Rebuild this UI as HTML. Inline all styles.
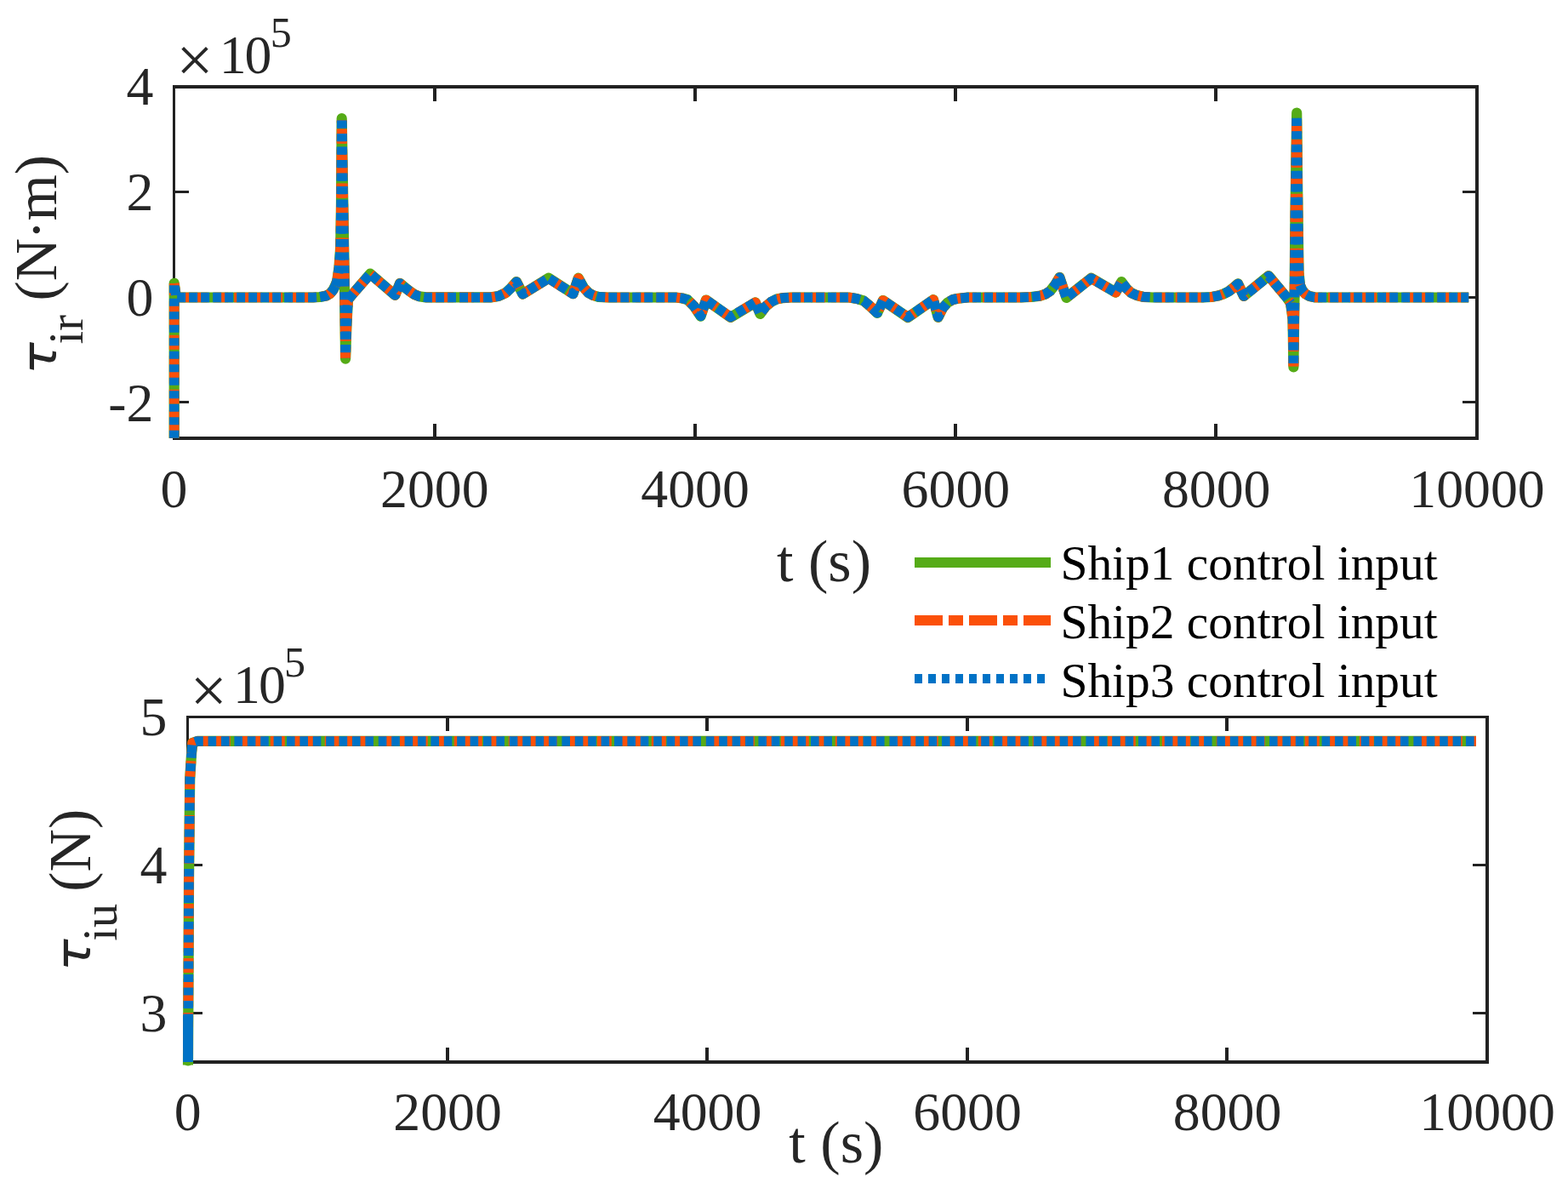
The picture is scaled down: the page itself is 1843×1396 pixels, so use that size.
<!DOCTYPE html>
<html lang="en"><head><meta charset="utf-8"><title>Ship control inputs</title>
<style>
html,body{margin:0;padding:0;background:#fff;}
svg{display:block;font-family:"Liberation Serif", serif;}
</style></head><body>
<svg width="1843" height="1396" viewBox="0 0 1843 1396">
<rect width="1843" height="1396" fill="#fff"/>
<g><rect x="203.00" y="100.00" width="3.00" height="417.00" fill="#212121"/><rect x="1734.00" y="100.00" width="4.00" height="417.00" fill="#212121"/><rect x="203.00" y="100.00" width="1535.00" height="4.00" fill="#212121"/><rect x="203.00" y="513.00" width="1535.00" height="4.00" fill="#212121"/><rect x="509.00" y="498.00" width="4.00" height="16.00" fill="#212121"/><rect x="509.00" y="103.00" width="4.00" height="16.00" fill="#212121"/><rect x="815.00" y="498.00" width="4.00" height="16.00" fill="#212121"/><rect x="815.00" y="103.00" width="4.00" height="16.00" fill="#212121"/><rect x="1121.00" y="498.00" width="4.00" height="16.00" fill="#212121"/><rect x="1121.00" y="103.00" width="4.00" height="16.00" fill="#212121"/><rect x="1427.00" y="498.00" width="4.00" height="16.00" fill="#212121"/><rect x="1427.00" y="103.00" width="4.00" height="16.00" fill="#212121"/><rect x="205.00" y="224.00" width="17.00" height="3.00" fill="#212121"/><rect x="1719.00" y="224.00" width="16.00" height="3.00" fill="#212121"/><rect x="205.00" y="348.00" width="17.00" height="3.00" fill="#212121"/><rect x="1719.00" y="348.00" width="16.00" height="3.00" fill="#212121"/><rect x="205.00" y="471.00" width="17.00" height="3.00" fill="#212121"/><rect x="1719.00" y="471.00" width="16.00" height="3.00" fill="#212121"/></g>
<g font-size="63.8" fill="#262626" text-anchor="middle"><text x="204.5" y="595.6">0</text><text x="510.8" y="595.6">2000</text><text x="817.1" y="595.6">4000</text><text x="1123.4" y="595.6">6000</text><text x="1429.7" y="595.6">8000</text><text x="1736.0" y="595.6">10000</text></g>
<g font-size="63.8" fill="#262626" text-anchor="end"><text x="180.5" y="123.2">4</text><text x="180.5" y="246.9">2</text><text x="180.5" y="370.7">0</text><text x="180.5" y="494.5">-2</text></g>
<path d="M204.7 515.1 L204.7 332.8 L207.0 349.5 L368.0 349.5 L376.0 349.0 L383.5 347.6 L388.0 344.9 L391.6 340.6 L394.0 335.8 L396.2 330.2 L398.5 314.0 L400.2 290.8 L401.0 238.7 L401.7 139.0 L403.5 248.8 L405.0 339.9 L406.1 421.6 L407.5 380.4 L409.0 352.0 L415.0 344.9 L435.1 321.7 L464.4 346.8 L470.1 332.8 L476.0 337.9 L481.0 341.8 L487.0 346.0 L492.4 348.2 L500.5 349.4 L577.0 349.4 L586.0 348.0 L594.4 344.1 L601.0 337.9 L607.0 331.1 L614.4 345.6 L644.8 326.7 L673.5 345.2 L679.8 326.7 L686.0 337.9 L691.8 344.1 L697.0 347.0 L703.3 348.8 L714.7 349.5 L794.4 349.5 L802.0 350.5 L808.1 352.2 L816.0 360.1 L823.6 371.7 L829.9 352.5 L858.6 372.9 L887.8 355.4 L893.5 368.8 L900.0 360.1 L906.7 354.6 L913.0 351.5 L920.5 350.1 L930.0 349.5 L997.8 349.5 L1007.0 351.0 L1015.0 353.3 L1023.0 360.1 L1031.1 368.0 L1037.9 353.0 L1067.2 373.1 L1097.0 352.2 L1102.7 372.9 L1108.0 362.1 L1113.6 355.7 L1120.0 352.0 L1126.2 350.8 L1137.6 349.5 L1200.0 349.5 L1212.0 349.0 L1223.0 347.6 L1229.0 345.5 L1234.5 341.8 L1240.0 334.8 L1245.4 325.8 L1253.4 349.9 L1282.6 326.7 L1311.3 343.6 L1318.2 331.1 L1324.0 338.9 L1329.6 344.1 L1336.0 347.0 L1343.4 348.8 L1355.0 349.5 L1414.0 349.5 L1424.0 349.0 L1431.6 347.6 L1438.0 345.5 L1444.2 342.4 L1450.0 337.9 L1455.1 333.4 L1461.9 347.9 L1491.2 324.1 L1511.8 348.8 L1517.0 356.1 L1519.5 375.3 L1520.4 431.4 L1521.5 350.0 L1522.5 248.8 L1524.2 132.5 L1525.5 248.8 L1526.5 319.6 L1528.0 334.8 L1530.5 340.9 L1534.5 345.5 L1539.0 348.0 L1545.0 349.3 L1550.0 349.5 L1726.2 349.5" fill="none" stroke="#55AB17" stroke-width="12.2" stroke-linejoin="round" stroke-linecap="butt"/>
<path d="M204.7 514.8 L204.7 333.0" fill="none" stroke="#FB5009" stroke-width="11.7" stroke-linejoin="round" stroke-dasharray="33 7 17 7" stroke-dashoffset="0.00"/>
<path d="M204.7 333.0 L207.0 349.5 L368.0 349.5 L376.0 349.0 L383.5 347.6 L388.0 345.0 L391.6 340.7 L394.0 336.0" fill="none" stroke="#FB5009" stroke-width="11.7" stroke-linejoin="round" stroke-dasharray="33 7 17 7" stroke-dashoffset="43.20"/>
<path d="M394.0 336.0 L396.2 330.4 L398.5 314.4 L400.2 291.5 L401.0 240.0 L401.7 141.5" fill="none" stroke="#FB5009" stroke-width="11.7" stroke-linejoin="round" stroke-dasharray="33 7 17 7" stroke-dashoffset="0.00"/>
<path d="M401.7 141.5 L403.5 250.0 L405.0 340.0 L406.1 420.7" fill="none" stroke="#FB5009" stroke-width="11.7" stroke-linejoin="round" stroke-dasharray="33 7 17 7" stroke-dashoffset="29.85"/>
<path d="M406.1 420.7 L407.5 380.0 L409.0 352.0" fill="none" stroke="#FB5009" stroke-width="11.7" stroke-linejoin="round" stroke-dasharray="33 7 17 7" stroke-dashoffset="43.92"/>
<path d="M409.0 352.0 L415.0 345.0 L435.1 322.0 L464.4 346.8 L470.1 333.0 L476.0 338.0 L481.0 341.9 L487.0 346.0 L492.4 348.2 L500.5 349.4 L577.0 349.4 L586.0 348.0 L594.4 344.2 L601.0 338.0 L607.0 331.3 L614.4 345.6 L644.8 327.0 L673.5 345.3 L679.8 327.0 L686.0 338.0 L691.8 344.2 L697.0 347.0 L703.3 348.8 L714.7 349.5 L794.4 349.5 L802.0 350.5 L808.1 352.2 L816.0 360.0 L823.6 371.4 L829.9 352.5 L858.6 372.6 L887.8 355.3 L893.5 368.6 L900.0 360.0 L906.7 354.5 L913.0 351.5 L920.5 350.1 L930.0 349.5 L997.8 349.5 L1007.0 351.0 L1015.0 353.3 L1023.0 360.0 L1031.1 367.8 L1037.9 353.0 L1067.2 372.8 L1097.0 352.2 L1102.7 372.6 L1108.0 362.0 L1113.6 355.6 L1120.0 352.0 L1126.2 350.8 L1137.6 349.5 L1200.0 349.5 L1212.0 349.0 L1223.0 347.6 L1229.0 345.5 L1234.5 341.9 L1240.0 335.0 L1245.4 326.1 L1253.4 349.9 L1282.6 327.0 L1311.3 343.7 L1318.2 331.3 L1324.0 339.0 L1329.6 344.2 L1336.0 347.0 L1343.4 348.8 L1355.0 349.5 L1414.0 349.5 L1424.0 349.0 L1431.6 347.6 L1438.0 345.5 L1444.2 342.5 L1450.0 338.0 L1455.1 333.6 L1461.9 347.9 L1491.2 324.4 L1511.8 348.8 L1517.0 356.0" fill="none" stroke="#FB5009" stroke-width="11.7" stroke-linejoin="round" stroke-dasharray="33 7 17 7" stroke-dashoffset="0.00"/>
<path d="M1517.0 356.0 L1519.5 375.0 L1520.4 430.4" fill="none" stroke="#FB5009" stroke-width="11.7" stroke-linejoin="round" stroke-dasharray="33 7 17 7" stroke-dashoffset="0.00"/>
<path d="M1520.4 430.4 L1521.5 350.0 L1522.5 250.0 L1524.2 135.1" fill="none" stroke="#FB5009" stroke-width="11.7" stroke-linejoin="round" stroke-dasharray="33 7 17 7" stroke-dashoffset="22.43"/>
<path d="M1524.2 135.1 L1525.5 250.0 L1526.5 320.0 L1528.0 335.0" fill="none" stroke="#FB5009" stroke-width="11.7" stroke-linejoin="round" stroke-dasharray="33 7 17 7" stroke-dashoffset="35.25"/>
<path d="M1528.0 335.0 L1530.5 341.0 L1534.5 345.5 L1539.0 348.0 L1545.0 349.3 L1550.0 349.5 L1726.2 349.5" fill="none" stroke="#FB5009" stroke-width="11.7" stroke-linejoin="round" stroke-dasharray="33 7 17 7" stroke-dashoffset="0.00"/>
<path d="M204.7 514.8 L204.7 333.0" fill="none" stroke="#0072C6" stroke-width="11.5" stroke-linejoin="round" stroke-dasharray="9 6.5" stroke-dashoffset="0.00"/>
<path d="M204.7 333.0 L207.0 349.5 L368.0 349.5 L376.0 349.0 L383.5 347.6 L388.0 345.0 L391.6 340.7 L394.0 336.0" fill="none" stroke="#0072C6" stroke-width="11.5" stroke-linejoin="round" stroke-dasharray="10 4" stroke-dashoffset="10.20"/>
<path d="M394.0 336.0 L396.2 330.4 L398.5 314.4 L400.2 291.5 L401.0 240.0 L401.7 141.5" fill="none" stroke="#0072C6" stroke-width="11.5" stroke-linejoin="round" stroke-dasharray="9 6.5" stroke-dashoffset="0.00"/>
<path d="M401.7 141.5 L403.5 250.0 L405.0 340.0 L406.1 420.7" fill="none" stroke="#0072C6" stroke-width="11.5" stroke-linejoin="round" stroke-dasharray="9 6.5" stroke-dashoffset="15.35"/>
<path d="M406.1 420.7 L407.5 380.0 L409.0 352.0" fill="none" stroke="#0072C6" stroke-width="11.5" stroke-linejoin="round" stroke-dasharray="9 6.5" stroke-dashoffset="8.92"/>
<path d="M409.0 352.0 L415.0 345.0 L435.1 322.0 L464.4 346.8 L470.1 333.0 L476.0 338.0 L481.0 341.9 L487.0 346.0 L492.4 348.2 L500.5 349.4 L577.0 349.4 L586.0 348.0 L594.4 344.2 L601.0 338.0 L607.0 331.3 L614.4 345.6 L644.8 327.0 L673.5 345.3 L679.8 327.0 L686.0 338.0 L691.8 344.2 L697.0 347.0 L703.3 348.8 L714.7 349.5 L794.4 349.5 L802.0 350.5 L808.1 352.2 L816.0 360.0 L823.6 371.4 L829.9 352.5 L858.6 372.6 L887.8 355.3 L893.5 368.6 L900.0 360.0 L906.7 354.5 L913.0 351.5 L920.5 350.1 L930.0 349.5 L997.8 349.5 L1007.0 351.0 L1015.0 353.3 L1023.0 360.0 L1031.1 367.8 L1037.9 353.0 L1067.2 372.8 L1097.0 352.2 L1102.7 372.6 L1108.0 362.0 L1113.6 355.6 L1120.0 352.0 L1126.2 350.8 L1137.6 349.5 L1200.0 349.5 L1212.0 349.0 L1223.0 347.6 L1229.0 345.5 L1234.5 341.9 L1240.0 335.0 L1245.4 326.1 L1253.4 349.9 L1282.6 327.0 L1311.3 343.7 L1318.2 331.3 L1324.0 339.0 L1329.6 344.2 L1336.0 347.0 L1343.4 348.8 L1355.0 349.5 L1414.0 349.5 L1424.0 349.0 L1431.6 347.6 L1438.0 345.5 L1444.2 342.5 L1450.0 338.0 L1455.1 333.6 L1461.9 347.9 L1491.2 324.4 L1511.8 348.8 L1517.0 356.0" fill="none" stroke="#0072C6" stroke-width="11.5" stroke-linejoin="round" stroke-dasharray="10 4" stroke-dashoffset="0.00"/>
<path d="M1517.0 356.0 L1519.5 375.0 L1520.4 430.4" fill="none" stroke="#0072C6" stroke-width="11.5" stroke-linejoin="round" stroke-dasharray="9 6.5" stroke-dashoffset="0.00"/>
<path d="M1520.4 430.4 L1521.5 350.0 L1522.5 250.0 L1524.2 135.1" fill="none" stroke="#0072C6" stroke-width="11.5" stroke-linejoin="round" stroke-dasharray="9 6.5" stroke-dashoffset="11.93"/>
<path d="M1524.2 135.1 L1525.5 250.0 L1526.5 320.0 L1528.0 335.0" fill="none" stroke="#0072C6" stroke-width="11.5" stroke-linejoin="round" stroke-dasharray="9 6.5" stroke-dashoffset="11.75"/>
<path d="M1528.0 335.0 L1530.5 341.0 L1534.5 345.5 L1539.0 348.0 L1545.0 349.3 L1550.0 349.5 L1726.2 349.5" fill="none" stroke="#0072C6" stroke-width="11.5" stroke-linejoin="round" stroke-dasharray="10 4" stroke-dashoffset="0.00"/>
<text x="207.3" y="96.4" font-size="77" fill="#262626">×</text><text x="257.7" y="85.8" font-size="63.8" fill="#262626">1<tspan dx="-2">0</tspan></text><text x="317.8" y="55.0" font-size="50" fill="#262626">5</text>
<text x="968.5" y="682.6" text-anchor="middle" font-size="70.2" fill="#262626">t (s)</text>
<g transform="translate(65.9 436.4) rotate(-90)" fill="#262626"><text x="0" y="0" font-size="57" font-family="&quot;DejaVu Sans&quot;, &quot;Liberation Sans&quot;, sans-serif" font-style="italic" transform="translate(-3.5 0) scale(1.1 1)">τ</text><text x="32" y="31" font-size="56.2">ir</text><text x="83" y="0" font-size="69.8">(N<tspan dx="-2">·</tspan><tspan dx="-1">m)</tspan></text></g>
<g><rect x="219.00" y="841.00" width="3.00" height="409.00" fill="#212121"/><rect x="1746.00" y="841.00" width="4.00" height="409.00" fill="#212121"/><rect x="219.00" y="841.00" width="1531.00" height="3.00" fill="#212121"/><rect x="219.00" y="1246.00" width="1531.00" height="4.00" fill="#212121"/><rect x="524.00" y="1231.00" width="4.00" height="16.00" fill="#212121"/><rect x="524.00" y="843.00" width="4.00" height="16.00" fill="#212121"/><rect x="829.00" y="1231.00" width="4.00" height="16.00" fill="#212121"/><rect x="829.00" y="843.00" width="4.00" height="16.00" fill="#212121"/><rect x="1135.00" y="1231.00" width="4.00" height="16.00" fill="#212121"/><rect x="1135.00" y="843.00" width="4.00" height="16.00" fill="#212121"/><rect x="1440.00" y="1231.00" width="4.00" height="16.00" fill="#212121"/><rect x="1440.00" y="843.00" width="4.00" height="16.00" fill="#212121"/><rect x="221.00" y="1015.00" width="17.00" height="3.00" fill="#212121"/><rect x="1731.00" y="1015.00" width="16.00" height="3.00" fill="#212121"/><rect x="221.00" y="1189.00" width="17.00" height="3.00" fill="#212121"/><rect x="1731.00" y="1189.00" width="16.00" height="3.00" fill="#212121"/></g>
<g font-size="63.8" fill="#262626" text-anchor="middle"><text x="220.6" y="1328">0</text><text x="526.1" y="1328">2000</text><text x="831.6" y="1328">4000</text><text x="1137.1" y="1328">6000</text><text x="1442.6" y="1328">8000</text><text x="1748.1" y="1328">10000</text></g>
<g font-size="63.8" fill="#262626" text-anchor="end"><text x="196.5" y="863.6">5</text><text x="196.5" y="1037.7">4</text><text x="196.5" y="1211.7">3</text></g>
<path d="M221.0 1251.5 L222.0 1037.0 L223.2 915.5 L225.1 885.2 L226.2 873.0 L232.0 870.9 L1735.0 870.9" fill="none" stroke="#55AB17" stroke-width="12.2" stroke-linejoin="round" stroke-linecap="butt"/>
<path d="M221.0 1247.0 L222.0 1035.0 L223.2 915.0 L225.1 885.0" fill="none" stroke="#FB5009" stroke-width="11.7" stroke-linejoin="round" stroke-dasharray="33 7 17 7" stroke-dashoffset="0.00"/>
<path d="M225.1 885.0 L226.2 873.0 L232.0 870.9 L1735.0 870.9" fill="none" stroke="#FB5009" stroke-width="11.7" stroke-linejoin="round" stroke-dasharray="33 7 17 7" stroke-dashoffset="0.00"/>
<path d="M221.0 1247.0 L222.0 1035.0 L223.2 915.0 L225.1 885.0" fill="none" stroke="#0072C6" stroke-width="11.5" stroke-linejoin="round" stroke-dasharray="9 6.5" stroke-dashoffset="0.00"/>
<path d="M225.1 885.0 L226.2 873.0 L232.0 870.9 L1735.0 870.9" fill="none" stroke="#0072C6" stroke-width="11.5" stroke-linejoin="round" stroke-dasharray="9.6 5.8" stroke-dashoffset="0.00"/>
<path d="M221 1240 V1246.8" stroke="#55AB17" stroke-width="11.4" stroke-linecap="round" fill="none"/><path d="M221 1193 V1248" stroke="#0072C6" stroke-width="11.8" fill="none"/>
<text x="223.6" y="836.5" font-size="77" fill="#262626">×</text><text x="274.0" y="825.9" font-size="63.8" fill="#262626">1<tspan dx="-2">0</tspan></text><text x="334.1" y="795.1" font-size="50" fill="#262626">5</text>
<text x="982.8" y="1365.9" text-anchor="middle" font-size="70.2" fill="#262626">t (s)</text>
<g transform="translate(105.5 1137.7) rotate(-90)" fill="#262626"><text x="0" y="0" font-size="57" font-family="&quot;DejaVu Sans&quot;, &quot;Liberation Sans&quot;, sans-serif" font-style="italic" transform="translate(-3.5 0) scale(1.1 1)">τ</text><text x="32" y="31" font-size="56.2">iu</text><text x="90" y="0" font-size="69.8">(N)</text></g>
<path d="M1075 661 H1235" stroke="#55AB17" stroke-width="12" fill="none"/>
<text x="1246.5" y="681.2" font-size="57.4" fill="#000">Ship1 control input</text>
<path d="M1075 729 H1235" stroke="#FB5009" stroke-width="11.8" fill="none" stroke-dasharray="33 7 17 7"/>
<text x="1246.5" y="749.6" font-size="57.4" fill="#000">Ship2 control input</text>
<path d="M1075 797.5 H1235" stroke="#0072C6" stroke-width="11.2" fill="none" stroke-dasharray="9 7"/>
<text x="1246.5" y="819.0" font-size="57.4" fill="#000">Ship3 control input</text>
</svg>
</body></html>
